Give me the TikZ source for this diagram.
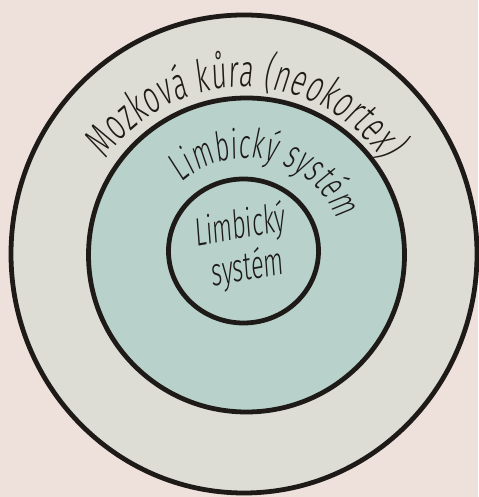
\documentclass[tikz,border=0pt]{standalone}
\usepackage{fontspec}
\usetikzlibrary{decorations.text}
\newfontfamily\handfont[FakeStretch=0.6,FakeSlant=0.1]{Fira Sans Light}
\definecolor{paper}{HTML}{EEE0DA}
\definecolor{cortexfill}{HTML}{DDDCD5}
\definecolor{limbicfill}{HTML}{B8D2CB}
\definecolor{ink}{HTML}{1E1A18}
\begin{document}
\begin{tikzpicture}[
            x=0.025cm, y=0.025cm,
            ring/.style={draw=ink, line width=3.4pt, line join=round},
            cortex ring/.style={ring, fill=cortexfill},
            limbic ring/.style={ring, fill=limbicfill},
            arc label/.style={decorate, decoration={text along path, text align=center, text color=ink}},
            every node/.style={align=center, text=ink}
    ]
        % Background
        \fill[paper] (0,0) rectangle (478,497);
        \useasboundingbox (0,0) rectangle (478,497);

        % Rings
        \draw[cortex ring] (244,243) ellipse [x radius=233, y radius=239];
        \draw[limbic ring] (246.5,242) ellipse [x radius=158, y radius=157];
        \draw[ring] (243.5,246) ellipse [x radius=75, y radius=72];

        % Arc labels
        \path[arc label, decoration={text={|\handfont\fontsize{32}{36}\selectfont\kern0.5pt|Mozková kůra (neokortex)}}]
            (244,243) ++(150:167) arc[start angle=150, end angle=30, radius=167];
        \path[arc label, decoration={text={|\handfont\fontsize{29}{34}\selectfont\kern0.4pt|Limbický systém}}]
            (246.5,242) ++(142:97) arc[start angle=142, end angle=12, radius=97];

        % Inner label
        \node[font=\handfont\fontsize{28}{30}\selectfont, rotate=10] (core) at (243,249) {Limbický\\systém};
    \end{tikzpicture}
\end{document}
